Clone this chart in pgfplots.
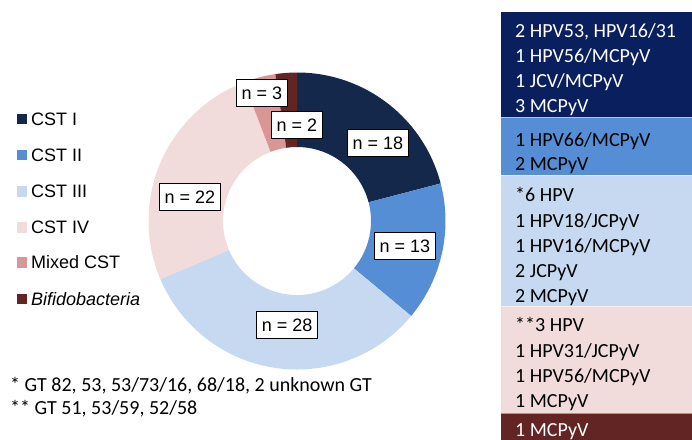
\documentclass[border=0pt]{standalone}
\usepackage{pgfplots}
\pgfplotsset{compat=1.18}
\usepackage{pgfplotstable}
\usepackage{fontspec}
\setmainfont{Carlito}
\newfontfamily\arialf{Liberation Sans}

\definecolor{seg0}{HTML}{13284B}
\definecolor{seg1}{HTML}{558ED5}
\definecolor{seg2}{HTML}{C6D9F0}
\definecolor{seg3}{HTML}{F2DCDB}
\definecolor{seg4}{HTML}{D99694}
\definecolor{seg5}{HTML}{632523}
\definecolor{pnavy}{HTML}{0A205E}

\pgfplotstableread{
idx val lx ly
0 18 0.545 0.525
1 13 0.727 -0.168
2 28 -0.067 -0.700
3 22 -0.721 0.162
4 3 -0.236 0.862
5 2 0.000 0.646
}\donut

\newcommand\ptxt[3]{\node[anchor=base west, inner sep=0pt, text=#3, font=\fontsize{20}{24}\selectfont] at (515pt,-#2pt) {#1};}

\begin{document}
% cumulative angles from the table
\gdef\total{0}%
\foreach \i in {0,...,5}{%
  \pgfplotstablegetelem{\i}{val}\of\donut
  \pgfmathsetmacro\tmp{\total+\pgfplotsretval}%
  \xdef\total{\tmp}%
}%
\gdef\cum{0}%
\foreach \i in {0,...,5}{%
  \pgfplotstablegetelem{\i}{val}\of\donut
  \edef\vcur{\pgfplotsretval}%
  \pgfmathsetmacro\sa{90-360*(\cum/\total)}%
  \pgfmathsetmacro\nc{\cum+\vcur}%
  \pgfmathsetmacro\ea{90-360*(\nc/\total)}%
  \expandafter\xdef\csname sa\i\endcsname{\sa}%
  \expandafter\xdef\csname ea\i\endcsname{\ea}%
  \pgfmathtruncatemacro\vi{\vcur}%
  \expandafter\xdef\csname vv\i\endcsname{\vi}%
  \pgfplotstablegetelem{\i}{lx}\of\donut
  \expandafter\xdef\csname lx\i\endcsname{\pgfplotsretval}%
  \pgfplotstablegetelem{\i}{ly}\of\donut
  \expandafter\xdef\csname ly\i\endcsname{\pgfplotsretval}%
  \xdef\cum{\nc}%
}%
\begin{tikzpicture}
\path[use as bounding box] (0pt,0pt) rectangle (692pt,-439pt);

\begin{axis}[at={(297pt,-221pt)}, anchor=origin, scale only axis,
  width=297pt, height=297pt, xmin=-1, xmax=1, ymin=-1, ymax=1,
  hide axis, clip=false]
\coordinate (O) at (axis cs:0,0);
\pgfplotsinvokeforeach{0,...,5}{%
  \fill[seg#1] ([shift={(\csname sa#1\endcsname:148.5pt)}]O)
     arc[start angle=\csname sa#1\endcsname, end angle=\csname ea#1\endcsname, radius=148.5pt]
     -- ([shift={(\csname ea#1\endcsname:74pt)}]O)
     arc[start angle=\csname ea#1\endcsname, end angle=\csname sa#1\endcsname, radius=74pt]
     -- cycle;
}
\pgfplotsinvokeforeach{0,...,5}{%
  \node[draw=black, line width=1pt, fill=white, inner xsep=5.5pt, inner ysep=0pt,
        minimum height=27pt, text height=13pt, text depth=0pt,
        font=\arialf\fontsize{18}{21}\selectfont]
     at (axis cs:\csname lx#1\endcsname,\csname ly#1\endcsname) {n = \csname vv#1\endcsname};
}
\end{axis}

% legend
\foreach \c/\t/\yb in {seg0/CST I/125, seg1/CST II/161.3, seg2/CST III/197.6, seg3/CST IV/233.5, seg4/Mixed CST/268.5, seg5/\textit{Bifidobacteria}/305}{%
  \fill[\c] (16.7pt,-\yb pt+1pt) rectangle (27.3pt,-\yb pt+11.5pt);
  \node[anchor=base west, inner sep=0pt, font=\arialf\fontsize{18}{21}\selectfont] at (31pt,-\yb pt) {\t};
}

% footnotes
\node[anchor=base west, inner sep=0pt, font=\fontsize{20}{24}\selectfont] at (10pt,-391pt) {* GT 82, 53, 53/73/16, 68/18, 2 unknown GT};
\node[anchor=base west, inner sep=0pt, font=\fontsize{20}{24}\selectfont] at (10pt,-414pt) {** GT 51, 53/59, 52/58};

% right panel
\fill[pnavy] (500.5pt,-12pt) rectangle (700pt,-117pt);
\fill[seg1] (500.5pt,-117pt) rectangle (700pt,-175pt);
\fill[seg2] (500.5pt,-175pt) rectangle (700pt,-306pt);
\fill[seg3] (500.5pt,-306pt) rectangle (700pt,-413pt);
\fill[seg5] (500.5pt,-413pt) rectangle (700pt,-450pt);
\draw[white, opacity=0.5, line width=0.6pt] (500.5pt,-117pt) -- (700pt,-117pt);
\draw[white, opacity=0.5, line width=0.6pt] (500.5pt,-175pt) -- (700pt,-175pt);
\draw[white, opacity=0.5, line width=0.6pt] (500.5pt,-306pt) -- (700pt,-306pt);
\draw[white, opacity=0.5, line width=0.6pt] (500.5pt,-413pt) -- (700pt,-413pt);

\ptxt{2 HPV53, HPV16/31}{37}{white}
\ptxt{1 HPV56/MCPyV}{62}{white}
\ptxt{1 JCV/MCPyV}{87}{white}
\ptxt{3 MCPyV}{112}{white}
\ptxt{1 HPV66/MCPyV}{146}{black}
\ptxt{2 MCPyV}{170}{black}
\ptxt{*6 HPV}{201}{black}
\ptxt{1 HPV18/JCPyV}{227}{black}
\ptxt{1 HPV16/MCPyV}{252}{black}
\ptxt{2 JCPyV}{277}{black}
\ptxt{2 MCPyV}{302}{black}
\ptxt{**3 HPV}{331}{black}
\ptxt{1 HPV31/JCPyV}{357}{black}
\ptxt{1 HPV56/MCPyV}{382}{black}
\ptxt{1 MCPyV}{407}{black}
\ptxt{1 MCPyV}{436}{white}
\end{tikzpicture}
\end{document}
